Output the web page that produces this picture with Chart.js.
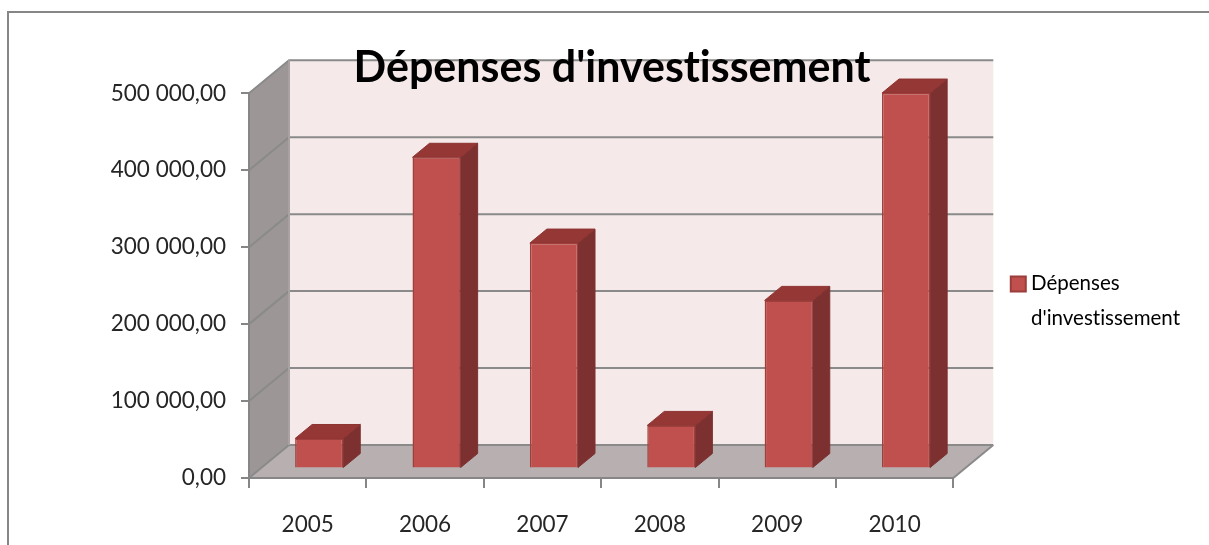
<!DOCTYPE html>
<html>
<head>
<meta charset="utf-8">
<title>Dépenses d'investissement</title>
<script src="https://cdn.jsdelivr.net/npm/chart.js@4"></script>
<style>
  html, body { margin: 0; padding: 0; background: #fff; overflow: hidden; }
  #frame { position: absolute; left: 7px; top: 11px; right: 0; bottom: 0; border-left: 2px solid #868686; border-top: 2px solid #868686; }
  canvas { position: absolute; left: 0; top: 0; }
</style>
</head>
<body>
<div id="frame"></div>
<canvas id="chart" width="1209" height="545"></canvas>
<script>
const chartTitle = "Dépenses d'investissement";
const seriesName = ['Dépenses', "d'investissement"];
const years = ['2005', '2006', '2007', '2008', '2009', '2010'];
const depenses = [39000, 404500, 293000, 56000, 218500, 488000];
const yTickLabels = ['0,00', '100 000,00', '200 000,00', '300 000,00', '400 000,00', '500 000,00'];

// Profondeur de la "3D" (mur du fond et barres)
const wallDx = 40, wallDy = -33;
const barShiftX = 11.5, barShiftY = -9.5;
const barDx = 17, barDy = -14;

function poly(ctx, pts, fill, stroke) {
  ctx.beginPath();
  pts.forEach((p, i) => i ? ctx.lineTo(p[0], p[1]) : ctx.moveTo(p[0], p[1]));
  ctx.closePath();
  ctx.fillStyle = fill;
  ctx.fill();
  if (stroke) { ctx.strokeStyle = stroke; ctx.lineWidth = 1; ctx.stroke(); }
}

const walls3d = {
  id: 'walls3d',
  beforeLayout(chart) {
    // Pas de ligatures "ti" dans le texte
    chart.ctx.textRendering = 'optimizeSpeed';
  },
  afterLayout(chart) {
    // Légende un peu plus bas que le centre du graphique
    chart.legend.top += 22;
    chart.legend.bottom += 22;
  },
  beforeDraw(chart) {
    const { ctx, chartArea: a, scales } = chart;
    ctx.textRendering = 'optimizeSpeed';
    ctx.save();
    // mur du fond, mur gauche, sol
    poly(ctx, [[a.left + wallDx, a.top + wallDy], [a.right + wallDx, a.top + wallDy], [a.right + wallDx, a.bottom + wallDy], [a.left + wallDx, a.bottom + wallDy]], '#f5e9e9');
    poly(ctx, [[a.left, a.top], [a.left + wallDx, a.top + wallDy], [a.left + wallDx, a.bottom + wallDy], [a.left, a.bottom]], '#9c9696');
    poly(ctx, [[a.left, a.bottom], [a.left + wallDx, a.bottom + wallDy], [a.right + wallDx, a.bottom + wallDy], [a.right, a.bottom]], '#b8b0b0');
    // quadrillage
    ctx.strokeStyle = '#8a8a8a';
    ctx.lineWidth = 2;
    scales.y.ticks.forEach(t => {
      const y = scales.y.getPixelForValue(t.value);
      ctx.beginPath();
      ctx.moveTo(a.left, y);
      ctx.lineTo(a.left + wallDx, y + wallDy);
      ctx.lineTo(a.right + wallDx, y + wallDy);
      ctx.stroke();
    });
    ctx.beginPath();
    ctx.moveTo(a.right, a.bottom);
    ctx.lineTo(a.right + wallDx, a.bottom + wallDy);
    ctx.stroke();
    ctx.beginPath();
    ctx.moveTo(a.left + wallDx, a.top + wallDy);
    ctx.lineTo(a.left + wallDx, a.bottom + wallDy);
    ctx.strokeStyle = '#a8a2a2';
    ctx.stroke();
    ctx.restore();
  },
  beforeDatasetsDraw(chart) {
    const { ctx } = chart;
    ctx.save();
    ctx.translate(barShiftX, barShiftY);
    chart.getDatasetMeta(0).data.forEach(bar => {
      const l = bar.x - bar.width / 2, r = bar.x + bar.width / 2;
      poly(ctx, [[r, bar.y], [r + barDx, bar.y + barDy], [r + barDx, bar.base + barDy], [r, bar.base]], '#7c3130', '#7c3130');
      poly(ctx, [[l, bar.y], [l + barDx, bar.y + barDy], [r + barDx, bar.y + barDy], [r, bar.y]], '#953735', '#8c3432');
    });
    // la translation reste active pour les faces avant
  },
  afterDatasetsDraw(chart) {
    chart.ctx.restore();
  }
};

new Chart(document.getElementById('chart'), {
  type: 'bar',
  plugins: [walls3d],
  data: {
    labels: years,
    datasets: [{
      label: seriesName,
      data: depenses,
      backgroundColor: '#c0504d',
      borderColor: '#a03e3c',
      borderWidth: 1.5,
      barPercentage: 0.41,
      categoryPercentage: 1
    }]
  },
  options: {
    responsive: false,
    animation: false,
    layout: { padding: { left: 34, right: 19, top: 0, bottom: 0 } },
    scales: {
      x: {
        afterFit(scale) { scale.height = 67; },
        grid: { drawOnChartArea: false, color: '#868686', lineWidth: 2, tickLength: 10 },
        border: { color: '#868686', width: 2 },
        ticks: { color: '#262626', padding: 23, maxRotation: 0, font: { family: 'Lato', size: 22.5 } }
      },
      y: {
        min: 0,
        max: 500000,
        afterFit(scale) { scale.width = 215; },
        grid: { drawOnChartArea: false, color: '#868686', lineWidth: 2, tickLength: 8 },
        border: { color: '#868686', width: 2 },
        ticks: {
          stepSize: 100000,
          color: '#262626',
          padding: 15,
          font: { family: 'Lato', size: 22.5 },
          callback: (v, i) => yTickLabels[i]
        }
      }
    },
    plugins: {
      title: {
        display: true,
        text: chartTitle,
        color: '#000',
        padding: { top: 43, bottom: 0 },
        font: { family: 'Lato', weight: 'bold', size: 43, lineHeight: 1.17 }
      },
      legend: {
        position: 'right',
        fullSize: false,
        labels: {
          color: '#262626',
          usePointStyle: true,
          boxWidth: 5,
          boxHeight: 15,
          padding: 62.5,
          font: { family: 'Lato', size: 20.5, lineHeight: 1.66 },
          generateLabels: () => [{
            text: seriesName,
            fillStyle: '#c0504d',
            strokeStyle: '#9b3d3b',
            lineWidth: 2,
            pointStyle: 'rect',
            datasetIndex: 0
          }]
        }
      },
      tooltip: { enabled: false }
    }
  }
});
</script>
</body>
</html>
